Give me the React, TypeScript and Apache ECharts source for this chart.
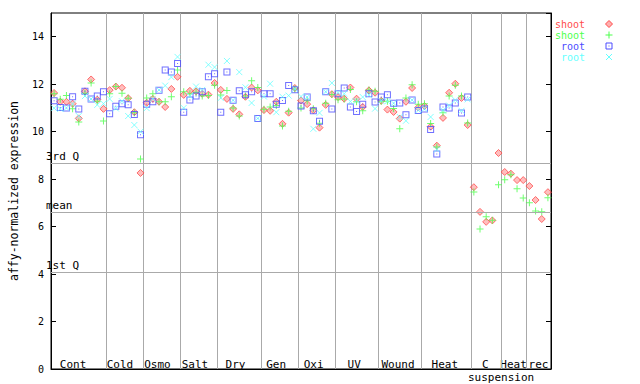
import React, { useEffect, useRef } from "react";
import * as echarts from "echarts";

// ---- data ----
const groups = ["Cont", "Cold", "Osmo", "Salt", "Dry", "Gen", "Oxi", "UV", "Wound", "Heat", "C", "Heat", "rec"];
const groupSubLabels = ["", "", "", "", "", "", "", "", "", "", "suspension", "", ""];
const groupSizes = [9, 6, 6, 6, 7, 6, 6, 7, 7, 8, 5, 4, 4];

const shootRep1 = [
  11.63, 11.26, 11.26, 11.18, 10.56, 11.7, 12.2, 11.35, 10.96,
  11.75, 11.9, 11.85, 11.41, 10.82, 8.26,
  11.22, 11.38, 11.26, 11.04, 11.8, 12.31,
  11.55, 11.72, 11.7, 11.6, 11.56, 12.05,
  11.76, 11.38, 10.96, 10.73, 11.47, 11.86, 11.74,
  10.91, 10.88, 11.26, 10.33, 10.8, 11.84,
  11.31, 11.16, 10.9, 10.17, 11.13, 11.58,
  11.46, 11.39, 11.86, 11.39, 11.04, 11.74, 11.64,
  11.3, 10.93, 10.83, 10.55, 11.26, 11.84, 11.02,
  11.08, 10.21, 9.41, 10.58, 11.64, 12.02, 11.42, 10.28,
  7.66, 6.62, 6.2, 6.26, 9.1,
  8.3, 8.23, 7.96, 7.96, 7.71, 7.12, 6.32, 7.45,
];
const shootRep2 = [
  11.6, 11.37, 11.52, 10.97, 10.41, 11.62, 12.05, 11.28, 10.45,
  11.6, 11.9, 11.62, 11.41, 10.8, 8.85,
  11.42, 11.6, 11.26, 11.26, 11.47, 12.6,
  11.68, 11.6, 11.66, 11.5, 11.52, 11.96,
  11.55, 11.73, 11.0, 10.66, 11.5, 12.15, 11.86,
  10.94, 11.04, 11.1, 10.24, 10.86, 11.8,
  11.0, 11.3, 10.97, 10.35, 11.2, 11.57,
  11.35, 11.38, 11.78, 11.26, 10.88, 11.76, 11.7,
  11.28, 11.28, 10.98, 10.12, 11.42, 11.98, 11.15,
  11.18, 10.34, 9.35, 10.8, 11.5, 11.96, 11.5, 10.37,
  7.46, 5.9, 6.42, 6.27, 7.76,
  7.97, 8.18, 7.59, 7.21, 7.0, 6.66, 6.63, 7.22,
];
const rootRep1 = [
  11.3, 11.02, 11.0, 11.47, 10.96, 11.7, 11.38, 11.5, 11.68,
  10.75, 11.07, 11.18, 11.13, 10.72, 9.87,
  11.16, 11.26, 11.75, 12.6, 12.51, 12.87,
  10.82, 11.33, 11.5, 11.68, 12.31, 12.44,
  10.82, 12.51, 11.32, 11.72, 11.56, 11.68, 10.56,
  11.6, 11.6, 11.16, 11.31, 11.94, 11.77,
  11.08, 11.46, 10.88, 10.44, 11.68, 10.96,
  11.6, 11.84, 11.04, 10.85, 11.16, 11.6, 11.25,
  11.46, 11.56, 11.2, 11.21, 10.71, 11.33, 10.89,
  10.96, 10.09, 9.06, 11.04, 11.0, 11.21, 10.79, 11.46,
  null, null, null, null, null,
  null, null, null, null, null, null, null, null,
];
const rootRep2 = [
  10.99, 10.96, 11.0, 11.17, 10.66, 11.5, 11.38, 11.13, 11.18,
  11.38, 10.98, 11.28, 10.66, 10.28, 10.0,
  10.99, 11.38, 11.76, 11.94, 12.3, 13.15,
  11.0, 11.5, 11.9, 11.76, 12.82, 12.72,
  11.42, 12.98, 11.32, 12.51, 11.87, 11.21, 10.56,
  11.48, 12.02, 10.82, 11.47, 11.52, 11.8,
  11.48, 11.46, 10.12, 10.79, 11.68, 12.05,
  11.65, 11.6, 11.27, 11.3, 11.46, 11.55, 10.97,
  11.3, 11.28, 11.2, 10.62, 10.46, 11.33, 10.9,
  10.96, 10.62, 9.25, 10.9, 11.1, 11.33, 10.88, 11.36,
  null, null, null, null, null,
  null, null, null, null, null, null, null, null,
];

const quantileValues = [8.69, 6.62, 4.09];
const quantileLabels = ["3rd Q", "mean", "1st Q"];

const legendNames = ["shoot", "shoot", "root", "root"];
const seriesColors = ["#ff4c4c", "#4cff4c", "#4c4cff", "#66ffff"];

const yMin = 0;
const yMax = 15;
const yInterval = 2;

// ---- layout ----
const W = 640;
const H = 384;
const gridLeft = 45;
const gridTop = 13;
const gridRight = 89;
const gridBottom = 15;
const mono = "'DejaVu Sans Mono', monospace";

const symDiamond = "path://M3.5,0L7,3.5L3.5,7L0,3.5Z";
const symPlus = "path://M3,0H4V3H7V4H4V7H3V4H0V3H3Z";
const symSquare = "path://M0,0H7V7H0Z M1,1V6H6V1Z M3,3H4V4H3Z";
const symX = "path://M0,0L6,6M6,0L0,6";

export default function App() {
  const ref = useRef<HTMLDivElement>(null);
  useEffect(() => {
    if (!ref.current) return;
    const chart = echarts.init(ref.current, undefined, { renderer: "svg", width: W, height: H });
    const n = groupSizes.reduce((a, b) => a + b, 0);
    const categories = Array.from({ length: n }, (_, i) => String(i + 1));
    const boundaries: number[] = [];
    let acc = 0;
    groupSizes.forEach((s) => {
      acc += s;
      if (acc < n) boundaries.push(acc);
    });
    const plotW = W - gridLeft - gridRight;
    const step = plotW / n;
    const plotBottom = H - gridBottom;

    const graphics: any[] = [];
    let start = 0;
    groups.forEach((g, gi) => {
      const size = groupSizes[gi];
      const cx = gridLeft + (start + size / 2) * step;
      graphics.push({
        type: "text",
        x: cx,
        y: plotBottom - 5,
        style: { text: g, fill: "#000", font: `11px ${mono}`, textAlign: "center", textVerticalAlign: "middle" },
      });
      if (groupSubLabels[gi]) {
        graphics.push({
          type: "text",
          x: gridLeft + (start + size) * step,
          y: plotBottom + 8,
          style: { text: groupSubLabels[gi], fill: "#000", font: `11px ${mono}`, textAlign: "center", textVerticalAlign: "middle" },
        });
      }
      start += size;
    });

    // legend
    legendNames.forEach((name, i) => {
      const y = 24 + i * 11;
      graphics.push({
        type: "text",
        x: 585,
        y,
        style: { text: name, fill: seriesColors[i], font: `10px ${mono}`, textAlign: "right", textVerticalAlign: "middle", lineHeight: 10 },
      });
      const mx = 609;
      if (i === 0) {
        graphics.push({ type: "polygon", shape: { points: [[mx, y - 3.5], [mx + 3.5, y], [mx, y + 3.5], [mx - 3.5, y]] }, style: { fill: "rgba(255,76,76,0.45)", stroke: seriesColors[0], lineWidth: 1 } });
      } else if (i === 1) {
        graphics.push({ type: "line", shape: { x1: mx - 3.5, y1: y, x2: mx + 3.5, y2: y }, style: { stroke: seriesColors[1], lineWidth: 1 } });
        graphics.push({ type: "line", shape: { x1: mx, y1: y - 3.5, x2: mx, y2: y + 3.5 }, style: { stroke: seriesColors[1], lineWidth: 1 } });
      } else if (i === 2) {
        graphics.push({ type: "rect", shape: { x: mx - 3, y: y - 3, width: 6, height: 6 }, style: { fill: "none", stroke: seriesColors[2], lineWidth: 1 } });
        graphics.push({ type: "rect", shape: { x: mx - 0.5, y: y - 0.5, width: 1, height: 1 }, style: { fill: seriesColors[2] } });
      } else {
        graphics.push({ type: "line", shape: { x1: mx - 3, y1: y - 3, x2: mx + 3, y2: y + 3 }, style: { stroke: seriesColors[3], lineWidth: 1 } });
        graphics.push({ type: "line", shape: { x1: mx + 3, y1: y - 3, x2: mx - 3, y2: y + 3 }, style: { stroke: seriesColors[3], lineWidth: 1 } });
      }
    });

    const yAxisBase = {
      type: "value",
      min: yMin,
      max: yMax,
      interval: yInterval,
      axisLine: { show: true, lineStyle: { color: "#000", width: 1 } },
      axisTick: { show: true, inside: true, length: 5, lineStyle: { color: "#000" } },
      splitLine: { show: false },
    };

    chart.setOption({
      animation: false,
      backgroundColor: "#fff",
      grid: {
        left: gridLeft,
        top: gridTop,
        right: gridRight,
        bottom: gridBottom,
        show: true,
        borderColor: "#000",
        borderWidth: 1,
        backgroundColor: "transparent",
      },
      xAxis: {
        type: "category",
        data: categories,
        boundaryGap: true,
        axisLine: { show: true, lineStyle: { color: "#000" } },
        axisTick: { show: false },
        axisLabel: { show: false },
        splitLine: {
          show: true,
          interval: (index: number) => boundaries.indexOf(index) >= 0,
          lineStyle: { color: "#aaaaaa", width: 1 },
        },
      },
      yAxis: [
        {
          ...yAxisBase,
          position: "left",
          name: "affy-normalized expression",
          nameLocation: "middle",
          nameGap: 31,
          nameTextStyle: { color: "#000", fontFamily: mono, fontSize: 11.5 },
          axisLabel: { show: true, color: "#000", fontFamily: mono, fontSize: 10, margin: 7, showMaxLabel: false },
        },
        {
          ...yAxisBase,
          position: "right",
          axisLabel: { show: false },
        },
      ],
      graphic: graphics,
      series: [
        {
          type: "scatter",
          name: "shoot1",
          data: shootRep1,
          symbol: symDiamond,
          symbolSize: 7,
          itemStyle: { color: "rgba(255,76,76,0.45)", borderColor: seriesColors[0], borderWidth: 1 },
          markLine: {
            silent: true,
            symbol: ["none", "none"],
            lineStyle: { color: "#aaaaaa", type: "solid", width: 1 },
            label: { show: true, position: "insideStartTop", color: "#000", fontFamily: mono, fontSize: 11, distance: [-5, 1] },
            emphasis: { disabled: true },
            data: quantileValues.map((v, i) => ({ yAxis: v, label: { formatter: quantileLabels[i] } })),
          },
        },
        {
          type: "scatter",
          name: "shoot2",
          data: shootRep2,
          symbol: symPlus,
          symbolSize: 7,
          itemStyle: { color: seriesColors[1], borderWidth: 0 },
        },
        {
          type: "scatter",
          name: "root1",
          data: rootRep1,
          symbol: symSquare,
          symbolSize: 7,
          itemStyle: { color: seriesColors[2], borderWidth: 0 },
        },
        {
          type: "scatter",
          name: "root2",
          data: rootRep2,
          symbol: symX,
          symbolSize: 6,
          itemStyle: { color: seriesColors[3], borderColor: seriesColors[3], borderWidth: 1 },
        },
      ],
    });
    return () => chart.dispose();
  }, []);
  return <div ref={ref} style={{ position: "fixed", left: 0, top: 0, width: W, height: H }} />;
}
